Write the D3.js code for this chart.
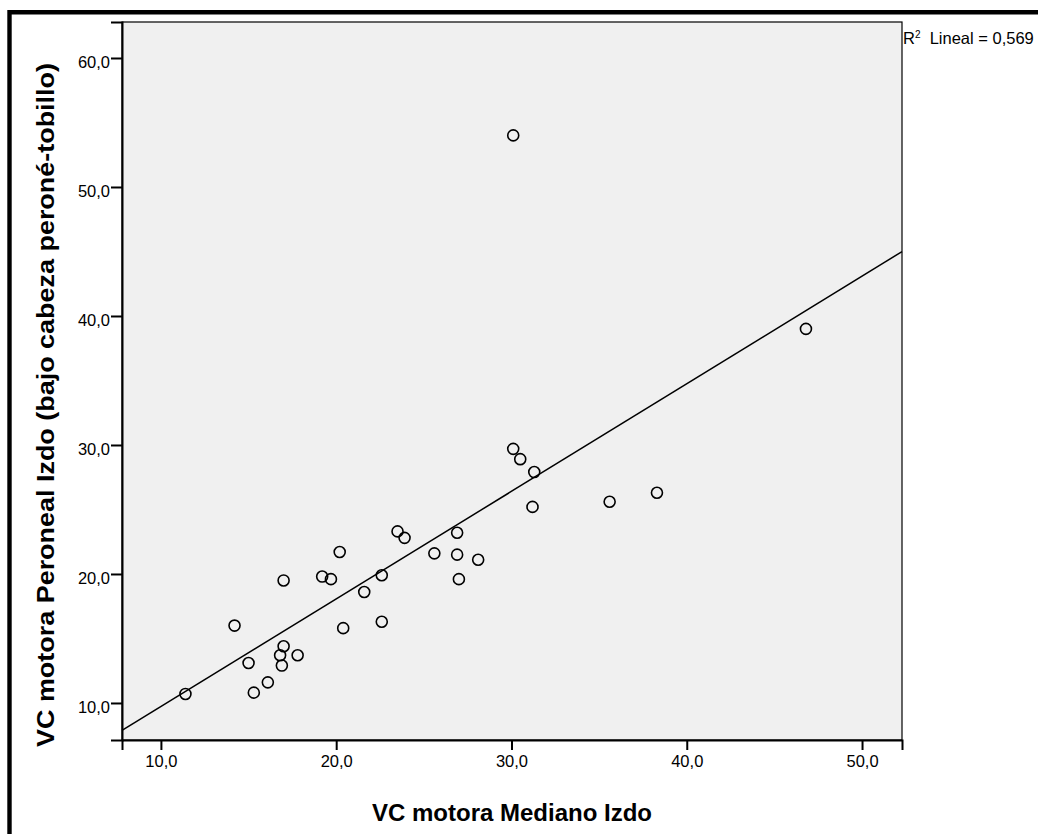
<!DOCTYPE html>
<html>
<head>
<meta charset="utf-8">
<script src="https://cdn.jsdelivr.net/npm/d3@7"></script>
<style>
  body { margin: 0; background: #fff; }
  text { font-family: "Liberation Sans", Arial, sans-serif; fill: #000; }
  .tick text { font-size: 16.5px; }
  .axis-title { font-weight: bold; }
</style>
</head>
<body>
<svg width="1038" height="834"></svg>
<script>
// VC motora Mediano Izdo (x) vs VC motora Peroneal Izdo (y)
const medianoIzdo = [
  11.4, 14.2, 15.0, 15.3, 16.1, 16.8, 16.9, 17.0, 17.0, 17.8,
  19.2, 19.7, 20.2, 20.4, 21.6, 22.6, 22.6, 23.5, 23.9, 25.6,
  26.9, 26.9, 27.0, 28.1, 30.1, 30.5, 31.3, 31.2, 30.1, 35.6,
  38.3, 46.8
];
const peronealIzdo = [
  10.7, 16.0, 13.1, 10.8, 11.6, 13.7, 12.9, 14.4, 19.5, 13.7,
  19.8, 19.6, 21.7, 15.8, 18.6, 19.9, 16.3, 23.3, 22.8, 21.6,
  23.2, 21.5, 19.6, 21.1, 29.7, 28.9, 27.9, 25.2, 54.0, 25.6,
  26.3, 39.0
];
const xTicks = [10, 20, 30, 40, 50];
const yTicks = [10, 20, 30, 40, 50, 60];
const xLabel = "VC motora Mediano Izdo";
const yLabel = "VC motora Peroneal Izdo (bajo cabeza peroné-tobillo)";
const r2Text = "0,569";

const svg = d3.select("svg");
const plot = { left: 122, top: 22, right: 902, bottom: 740 };

const xScale = d3.scaleLinear().domain([7.78, 52.28]).range([plot.left, plot.right]);
const yScale = d3.scaleLinear().domain([7.13, 62.79]).range([plot.bottom, plot.top]);
const fmt = (d) => d3.format(".1f")(d).replace(".", ",");

// outer frame (left + top edges only visible)
svg.append("path")
  .attr("d", "M9.5,834V12.2H1038")
  .attr("fill", "none")
  .attr("stroke", "#000")
  .attr("stroke-width", 4.4);

svg.append("rect")
  .attr("x", plot.left)
  .attr("y", plot.top)
  .attr("width", plot.right - plot.left)
  .attr("height", plot.bottom - plot.top)
  .attr("fill", "#f0f0f0")
  .attr("stroke", "#000")
  .attr("stroke-width", 1.2);

// least squares fit line
const n = medianoIzdo.length;
const mx = d3.mean(medianoIzdo), my = d3.mean(peronealIzdo);
let sxy = 0, sxx = 0;
for (let i = 0; i < n; i++) {
  sxy += (medianoIzdo[i] - mx) * (peronealIzdo[i] - my);
  sxx += (medianoIzdo[i] - mx) ** 2;
}
const slope = sxy / sxx;
const intercept = my - slope * mx;
const [x0, x1] = xScale.domain();
let lx0 = x0, lx1 = x1;
const [y0, y1] = yScale.domain();
if (intercept + slope * lx1 > y1) lx1 = (y1 - intercept) / slope;
if (intercept + slope * lx0 < y0) lx0 = (y0 - intercept) / slope;
svg.append("line")
  .attr("x1", xScale(lx0))
  .attr("y1", yScale(intercept + slope * lx0))
  .attr("x2", xScale(lx1))
  .attr("y2", yScale(intercept + slope * lx1))
  .attr("stroke", "#000")
  .attr("stroke-width", 1.5);

svg.append("g")
  .selectAll("circle")
  .data(d3.range(n))
  .join("circle")
  .attr("cx", (i) => xScale(medianoIzdo[i]))
  .attr("cy", (i) => yScale(peronealIzdo[i]))
  .attr("r", 5.5)
  .attr("fill", "none")
  .attr("stroke", "#000")
  .attr("stroke-width", 1.6);

// axes
const xAxisG = svg.append("g")
  .attr("transform", `translate(0,${plot.bottom})`)
  .call(d3.axisBottom(xScale).tickValues(xTicks).tickFormat(fmt).tickSize(10).tickPadding(5));
const yAxisG = svg.append("g")
  .attr("transform", `translate(${plot.left},0)`)
  .call(d3.axisLeft(yScale).tickValues(yTicks).tickFormat(fmt).tickSize(11).tickPadding(1));
[xAxisG, yAxisG].forEach((g) => {
  g.select(".domain").attr("stroke-width", 2);
  g.selectAll(".tick line").attr("stroke-width", 2);
  g.attr("font-size", null).attr("font-family", null);
});
yAxisG.selectAll(".tick text").attr("dy", "0.55em");

svg.append("text")
  .attr("class", "axis-title")
  .attr("x", (plot.left + plot.right) / 2)
  .attr("y", 821)
  .attr("font-size", 24)
  .attr("text-anchor", "middle")
  .text(xLabel);

// the original y title is drawn stretched along its length
svg.append("text")
  .attr("class", "axis-title")
  .attr("transform", "translate(54,405) rotate(-90)")
  .attr("font-size", 23)
  .attr("text-anchor", "middle")
  .attr("textLength", 684)
  .attr("lengthAdjust", "spacingAndGlyphs")
  .text(yLabel);

const r2 = svg.append("text")
  .attr("x", 903)
  .attr("y", 44)
  .attr("font-size", 16.5);
r2.append("tspan").text("R");
r2.append("tspan").attr("font-size", 10).attr("dy", -6).text("2");
r2.append("tspan").attr("dy", 6).text("\u00a0 Lineal = " + r2Text);
</script>
</body>
</html>
